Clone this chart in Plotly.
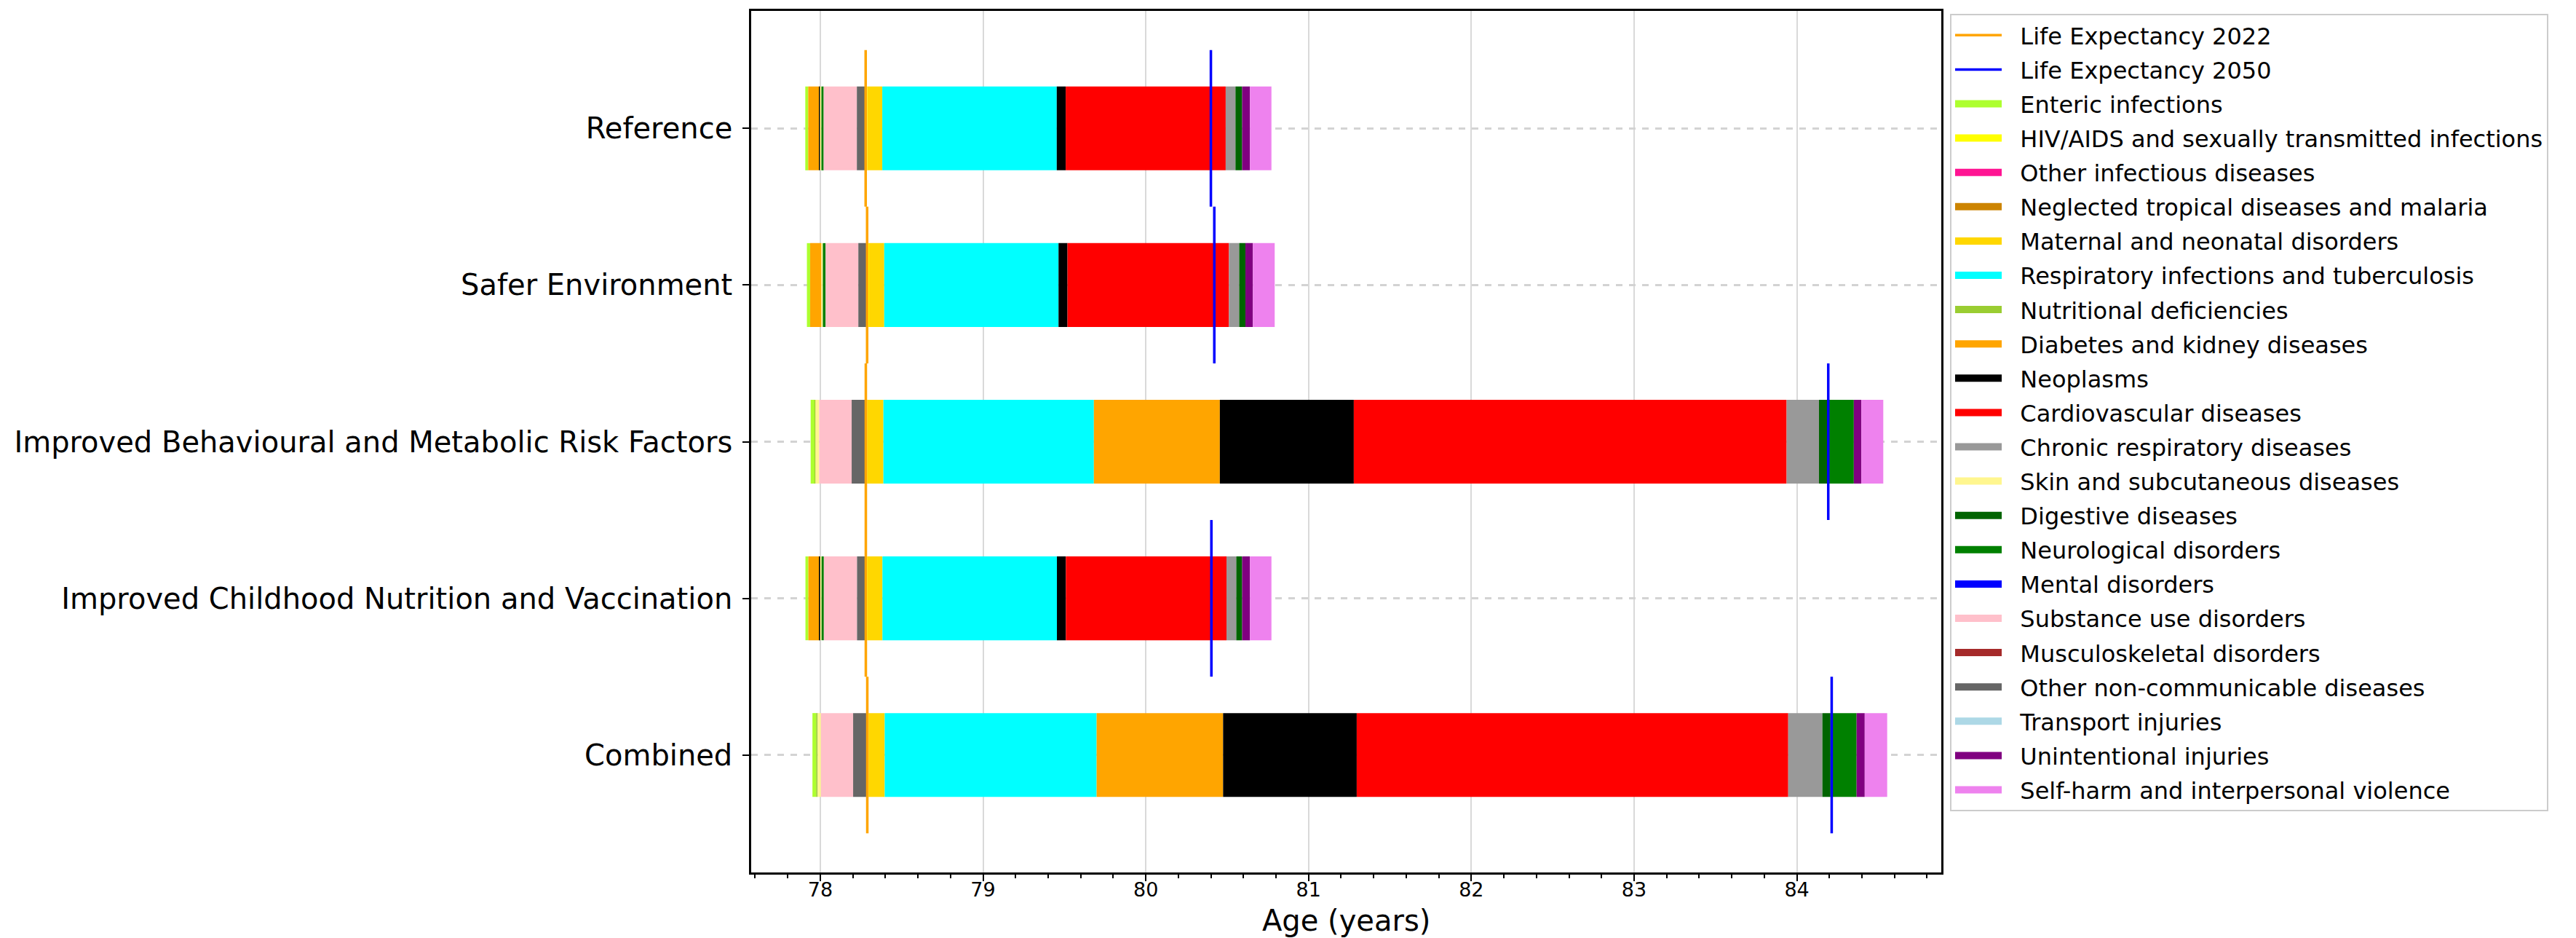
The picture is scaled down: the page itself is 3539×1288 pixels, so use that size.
import plotly.graph_objects as go

# ---------------- data ----------------
scenarios = [
    "Reference",
    "Safer Environment",
    "Improved Behavioural and Metabolic Risk Factors",
    "Improved Childhood Nutrition and Vaccination",
    "Combined",
]
le_2022 = [78.279, 78.288, 78.280, 78.280, 78.289]
le_2050 = [80.400, 80.421, 84.193, 80.403, 84.214]

causes = [
    "Enteric infections",
    "HIV/AIDS and sexually transmitted infections",
    "Other infectious diseases",
    "Neglected tropical diseases and malaria",
    "Maternal and neonatal disorders",
    "Respiratory infections and tuberculosis",
    "Nutritional deficiencies",
    "Diabetes and kidney diseases",
    "Neoplasms",
    "Cardiovascular diseases",
    "Chronic respiratory diseases",
    "Skin and subcutaneous diseases",
    "Digestive diseases",
    "Neurological disorders",
    "Mental disorders",
    "Substance use disorders",
    "Musculoskeletal disorders",
    "Other non-communicable diseases",
    "Transport injuries",
    "Unintentional injuries",
    "Self-harm and interpersonal violence",
]
colors = [
    "#ADFF2F", "#FFFF00", "#FF1493", "#CC8400", "#FFD700", "#00FFFF", "#9ACD32",
    "#FFA500", "#000000", "#FF0000", "#999999", "#FFF68F", "#006400", "#008000",
    "#0000FF", "#FFC0CB", "#A52A2A", "#666666", "#ADD8E6", "#800080", "#EE82EE",
]

# negative contributions (years of life expectancy lost), per scenario
neg_enteric = [-0.018, -0.020, -0.024, -0.018, -0.023]
neg_nutritional = [0.0, 0.0, -0.005, 0.0, -0.009]
neg_diabetes = [-0.066, -0.069, 0.0, -0.066, 0.0]
neg_neoplasms = [-0.006, 0.0, 0.0, -0.006, 0.0]
neg_skin = [-0.009, -0.009, -0.023, -0.009, -0.020]
neg_neuro = [-0.014, -0.017, 0.0, -0.014, 0.0]
neg_substance = [-0.204, -0.201, -0.200, -0.204, -0.198]
neg_other_ncd = [-0.054, -0.054, -0.087, -0.054, -0.087]

# positive contributions (years gained), per scenario
pos_hiv = [0.010, 0.012, 0.008, 0.010, 0.008]
pos_maternal = [0.092, 0.093, 0.100, 0.092, 0.099]
pos_respiratory = [1.072, 1.071, 1.293, 1.072, 1.302]
pos_diabetes = [0.0, 0.0, 0.774, 0.0, 0.777]
pos_neoplasms = [0.055, 0.055, 0.823, 0.055, 0.821]
pos_cardio = [0.983, 0.992, 2.659, 0.987, 2.651]
pos_chronic = [0.060, 0.063, 0.199, 0.060, 0.210]
pos_digestive = [0.041, 0.038, 0.050, 0.036, 0.050]
pos_neuro = [0.0, 0.0, 0.164, 0.0, 0.160]
pos_unintentional = [0.048, 0.046, 0.046, 0.048, 0.050]
pos_selfharm = [0.132, 0.134, 0.135, 0.132, 0.138]

zero = [0.0] * 5
negative = {
    "Enteric infections": neg_enteric,
    "Nutritional deficiencies": neg_nutritional,
    "Diabetes and kidney diseases": neg_diabetes,
    "Neoplasms": neg_neoplasms,
    "Skin and subcutaneous diseases": neg_skin,
    "Neurological disorders": neg_neuro,
    "Substance use disorders": neg_substance,
    "Other non-communicable diseases": neg_other_ncd,
}
positive = {
    "HIV/AIDS and sexually transmitted infections": pos_hiv,
    "Maternal and neonatal disorders": pos_maternal,
    "Respiratory infections and tuberculosis": pos_respiratory,
    "Diabetes and kidney diseases": pos_diabetes,
    "Neoplasms": pos_neoplasms,
    "Cardiovascular diseases": pos_cardio,
    "Chronic respiratory diseases": pos_chronic,
    "Digestive diseases": pos_digestive,
    "Neurological disorders": pos_neuro,
    "Unintentional injuries": pos_unintentional,
    "Self-harm and interpersonal violence": pos_selfharm,
}

# ---------------- figure ----------------
FONT = "DejaVu Sans"
GAP = "\u00a0\u00a0"  # space between legend swatch and label
rows = list(range(len(scenarios)))
fig = go.Figure()

# life-expectancy marker lines (one vertical segment per scenario row)
for name, vals, col in [("Life Expectancy 2022", le_2022, "#FFA500"),
                        ("Life Expectancy 2050", le_2050, "#0000FF")]:
    xs, ys = [], []
    for r, v in zip(rows, vals):
        xs += [v, v, None]
        ys += [r - 0.5, r + 0.5, None]
    fig.add_trace(go.Scatter(x=xs, y=ys, mode="lines", name=GAP + name,
                             legendgroup=name,
                             line=dict(color=col, width=3.5)))

# stacked contributions: negatives end at LE 2022, positives start at LE 2022
neg_cursor = [le_2022[i] + sum(negative[c][i] for c in negative) for i in rows]
pos_cursor = list(le_2022)
all_lefts, all_rights = [], []
for cause, col in zip(causes, colors):
    nv = negative.get(cause, zero)
    pv = positive.get(cause, zero)
    ys, widths, bases = [], [], []
    for i in rows:
        w = abs(nv[i])
        ys.append(i); widths.append(w); bases.append(neg_cursor[i])
        all_lefts.append(neg_cursor[i])
        neg_cursor[i] += w
    for i in rows:
        w = pv[i]
        ys.append(i); widths.append(w); bases.append(pos_cursor[i])
        pos_cursor[i] += w
        all_rights.append(pos_cursor[i])
    fig.add_trace(go.Bar(
        y=ys, x=widths, base=bases, orientation="h", name=cause,
        legendgroup=cause, showlegend=False,
        width=0.535, marker=dict(color=col, line=dict(width=0)),
    ))

# legend swatches (patch-like entries, same groups as the bars)
for cause, col in zip(causes, colors):
    fig.add_trace(go.Scatter(
        x=[None], y=[None], mode="lines", name=GAP + cause, legendgroup=cause,
        line=dict(color=col, width=22), hoverinfo="skip",
    ))

xmin, xmax = min(all_lefts), max(all_rights)
pad = 0.05 * (xmax - xmin)

W, H = 3539, 1288
L, R, T, B = 1024, 880, 7, 98
PW, PH = W - L - R, H - T - B
fig.update_layout(
    width=W, height=H,
    margin=dict(l=L, r=R, t=T, b=B, autoexpand=False),
    barmode="overlay",
    plot_bgcolor="white", paper_bgcolor="white",
    font=dict(family=FONT, color="black"),
    showlegend=True,
    legend=dict(
        x=1 + 12 / PW, xanchor="left",
        y=1 - 4 / PH, yanchor="top",
        font=dict(family=FONT, size=32, color="black"),
        bordercolor="#cccccc", borderwidth=2, bgcolor="white",
        itemwidth=64, tracegroupgap=2.5, traceorder="grouped",
    ),
    annotations=[dict(
        text="Age (years)", xref="paper", yref="paper",
        x=0.5, y=-(1256 - (T + PH)) / PH, xanchor="center", yanchor="middle",
        showarrow=False, font=dict(family=FONT, size=40, color="black"),
    )],
)
fig.update_xaxes(
    range=[xmin - pad, xmax + pad],
    tickmode="linear", tick0=78, dtick=1,
    ticks="outside", ticklen=9, tickwidth=2, tickcolor="black",
    tickfont=dict(family=FONT, size=27, color="black"),
    ticklabelstandoff=-11,
    minor=dict(dtick=0.2, ticks="outside", ticklen=5, tickwidth=1.5,
               tickcolor="black", showgrid=False),
    showgrid=True, gridcolor="#d9d9d9", gridwidth=2,
    showline=True, linecolor="black", linewidth=2.5, mirror=True,
    zeroline=False, automargin=False,
)
fig.update_yaxes(
    range=[len(scenarios) - 0.25, -0.75],
    tickmode="array", tickvals=rows, ticktext=scenarios,
    ticks="outside", ticklen=9, tickwidth=2, tickcolor="black",
    tickfont=dict(family=FONT, size=40, color="black"),
    ticklabelstandoff=6,
    showgrid=True, gridcolor="#d3d3d3", gridwidth=2.5, griddash="dash",
    showline=True, linecolor="black", linewidth=2.5, mirror=True,
    zeroline=False, automargin=False,
)

fig.write_html("out.html")
